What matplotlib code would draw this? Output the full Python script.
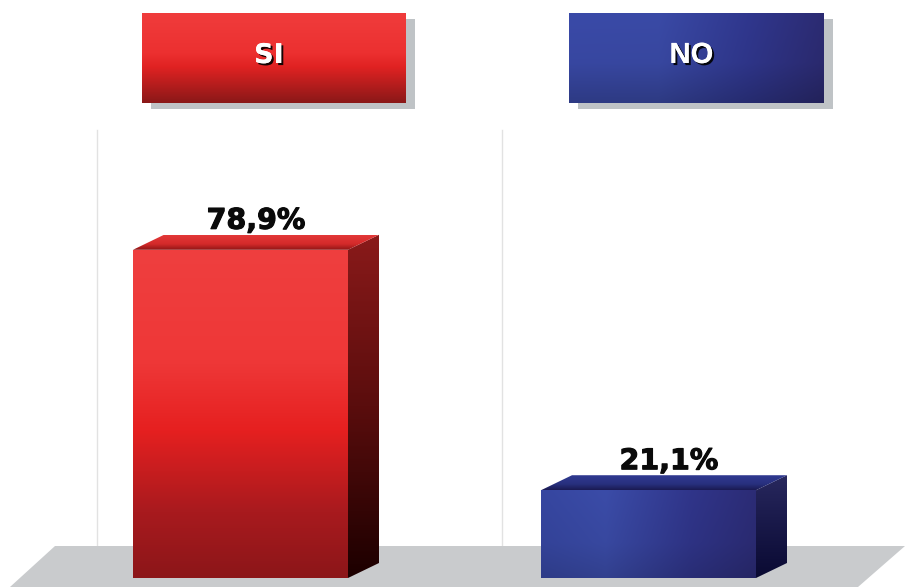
import numpy as np
import matplotlib
matplotlib.use("Agg")
import matplotlib.pyplot as plt
from matplotlib.patches import Polygon, Rectangle
from matplotlib.colors import to_rgb
import matplotlib.patheffects as pe

# datos
categorias = ["SI", "NO"]
valores = [78.9, 21.1]
etiquetas = ["78,9%", "21,1%"]

# escala: pixeles por punto porcentual, base de las barras
PX = 4.16
BASE = 578.0


def yv(py):
    # pixel vertical -> unidades de porcentaje
    return (BASE - py) / PX


def rampa(stops, n=256):
    pos = np.array([s[0] for s in stops])
    cols = np.array([to_rgb(s[1]) for s in stops])
    t = np.linspace(0, 1, n)
    return np.stack([np.interp(t, pos, cols[:, k]) for k in range(3)], axis=1)


def relleno(ax, verts, vstops, hstops=None, z=2):
    # poligono relleno con degradado vertical (de arriba a abajo) y opcional horizontal
    poly = Polygon(verts, closed=True, facecolor="none", edgecolor="none", zorder=z)
    ax.add_patch(poly)
    v = rampa(vstops)
    img = np.repeat(v[:, None, :], 256, axis=1)
    if hstops is not None:
        h = rampa(hstops)
        img = img * h[None, :, :]
    img = np.clip(img, 0, 1)
    xs = [p[0] for p in verts]
    ys = [p[1] for p in verts]
    im = ax.imshow(img, extent=(min(xs), max(xs), min(ys), max(ys)),
                   origin="upper", aspect="auto", zorder=z, interpolation="bilinear")
    im.set_clip_path(poly)
    return im


fig = plt.figure(figsize=(9.05, 5.87), dpi=100)
ax = fig.add_axes([0, 0, 1, 1])
ax.axis("off")

# piso gris
piso = Polygon([(10, yv(587)), (55, yv(546)), (905, yv(546)), (905, yv(546)),
                (858, yv(587))], closed=True, facecolor="#c9cbcd", edgecolor="none", zorder=1)
ax.add_patch(piso)

# lineas verticales de fondo
for xl in [97, 502]:
    ax.plot([xl, xl], [yv(546), yv(130)], color="#e2e2e2", lw=1, zorder=0.5)

# barras 3D
izq = [133, 541]
ancho = 215
dx = 31
dz = 15 / PX

frente_rojo = [(0, "#ef3f3f"), (0.35, "#ee3737"), (0.55, "#e62020"), (0.8, "#a81a1e"), (1, "#8c1619")]
lado_rojo = [(0, "#8a1a1a"), (0.5, "#5a0d0d"), (1, "#1c0000")]
techo_rojo = [(0, "#e33838"), (0.6, "#d42a2a"), (1, "#8e1515")]

frente_azul = [(0, "#ffffff"), (0.6, "#f2f2f2"), (1, "#d8d8d8")]
frente_azul_h = [(0, "#3646a0"), (0.3, "#3b4ca8"), (0.7, "#30358a"), (1, "#2c2c76")]
lado_azul = [(0, "#28285e"), (0.5, "#181848"), (1, "#0a0a32")]
techo_azul = [(0, "#303a92"), (0.6, "#28307e"), (1, "#1a1a52")]

# posicion de las etiquetas: centro x y separacion sobre el techo (en pixeles)
etq_x = [256, 669]
etq_sep = 6

for i, v in enumerate(valores):
    x0 = izq[i]
    x1 = x0 + ancho
    frente = [(x0, 0), (x1, 0), (x1, v), (x0, v)]
    lado = [(x1, 0), (x1 + dx, dz), (x1 + dx, v + dz), (x1, v)]
    techo = [(x0, v), (x1, v), (x1 + dx, v + dz), (x0 + dx, v + dz)]
    if i == 0:
        relleno(ax, frente, frente_rojo, z=3)
        relleno(ax, lado, lado_rojo, z=3)
        relleno(ax, techo, techo_rojo, z=3)
    else:
        relleno(ax, frente, frente_azul, frente_azul_h, z=3)
        relleno(ax, lado, lado_azul, z=3)
        relleno(ax, techo, techo_azul, z=3)
    ax.text(etq_x[i], v + dz + etq_sep / PX, etiquetas[i], ha="center", va="baseline",
            fontsize=20.5, fontweight="bold", family="DejaVu Sans", color="#0a0a0a", zorder=5,
            path_effects=[pe.withStroke(linewidth=0.8, foreground="#0a0a0a")])

# encabezados con sombra
enc_x = [142, 569]
enc_w = [264, 255]
enc_top = yv(13)
enc_bot = yv(103)
for i, cat in enumerate(categorias):
    x0 = enc_x[i]
    w = enc_w[i]
    ax.add_patch(Rectangle((x0 + 9, enc_bot - 6 / PX), w, enc_top - enc_bot,
                           facecolor="#bfc3c6", edgecolor="none", zorder=2))
    caja = [(x0, enc_bot), (x0 + w, enc_bot), (x0 + w, enc_top), (x0, enc_top)]
    if i == 0:
        relleno(ax, caja, [(0, "#f03c3c"), (0.45, "#ec3030"), (0.6, "#e02222"),
                           (1, "#8a1818")], z=3)
        fam = "DejaVu Sans"
        fs = 19.5
    else:
        relleno(ax, caja, [(0, "#ffffff"), (0.55, "#f4f4f4"), (1, "#c8c8c8")],
                [(0, "#3a4aa8"), (0.35, "#3a4aa6"), (0.7, "#30378e"), (1, "#2c2b72")], z=3)
        fam = "Liberation Sans"
        fs = 21
    ax.text(x0 + w / 2 - 5, yv(63), cat, ha="center", va="baseline",
            fontsize=fs, fontweight="bold", family=fam, color="white", zorder=5,
            path_effects=[pe.withSimplePatchShadow(offset=(1.5, -1.5), shadow_rgbFace="black",
                                                   alpha=0.9), pe.Normal()])

ax.set_xlim(0, 905)
ax.set_ylim(yv(587), yv(0))
fig.savefig("out.png", dpi=100, facecolor="white")
